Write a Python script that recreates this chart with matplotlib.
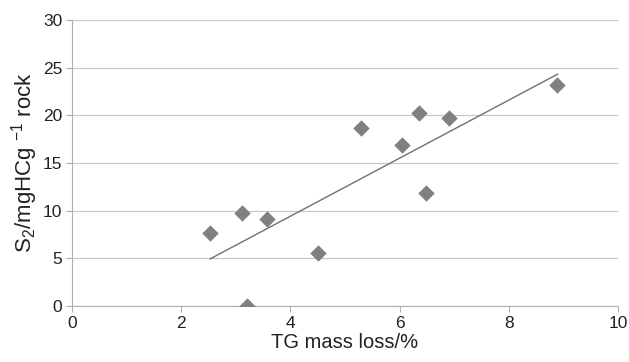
import numpy as np
import matplotlib
matplotlib.use("Agg")
import matplotlib.pyplot as plt

plt.rcParams['font.family'] = ['Liberation Sans', 'DejaVu Sans']
plt.rcParams['mathtext.default'] = 'regular'

# TG mass loss (%) vs S2 (mgHC/g rock)
tg_loss = [2.53, 3.11, 3.20, 3.58, 4.50, 5.29, 6.04, 6.35, 6.48, 6.90, 8.89]
s2 = [7.7, 9.8, 0.0, 9.1, 5.6, 18.65, 16.9, 20.25, 11.9, 19.7, 23.2]

x_ticks = [0, 2, 4, 6, 8, 10]
y_ticks = [0, 5, 10, 15, 20, 25, 30]

fig = plt.figure(figsize=(6.29, 3.62), dpi=100)
ax = fig.add_axes([0.1145, 0.1547, 0.868, 0.79])

ax.grid(axis='y', color='#c8c8c8', linewidth=0.9)
ax.set_axisbelow(True)

ax.scatter(tg_loss, s2, marker='D', s=70, color='#808080', zorder=3, linewidths=0)

# linear trend line over the data range
k, b = np.polyfit(tg_loss, s2, 1)
xs = np.array([min(tg_loss), max(tg_loss)])
ax.plot(xs, k * xs + b, color='#707070', linewidth=1.0, zorder=2)

ax.set_xlim(0, 10)
ax.set_ylim(0, 30)
ax.set_xticks(x_ticks)
ax.set_yticks(y_ticks)

for side in ['top', 'right']:
    ax.spines[side].set_visible(False)
for side in ['left', 'bottom']:
    ax.spines[side].set_color('#b0b0b0')
ax.tick_params(colors='#b0b0b0', labelcolor='#222222', labelsize=12.5, length=4, pad=3)

ax.set_xlabel('TG mass loss/%', fontsize=14.5, color='#222222', labelpad=2)
ax.set_ylabel(r'S$_2$/mgHCg $^{-1}$ rock', fontsize=16, color='#222222', labelpad=2)

fig.savefig('out.png', dpi=100)
